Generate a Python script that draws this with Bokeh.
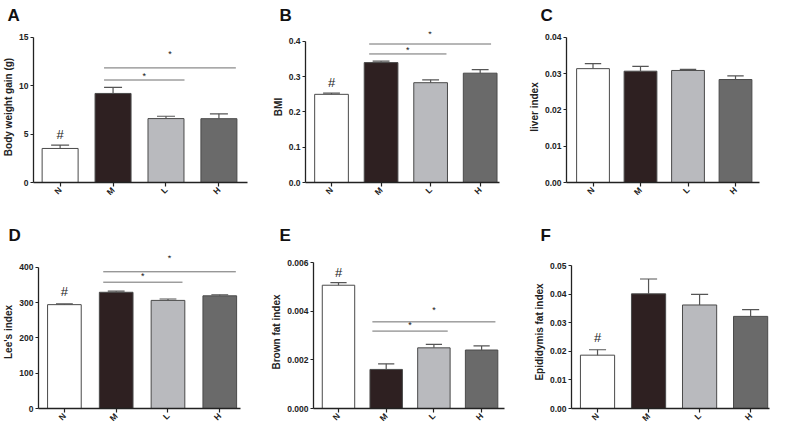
import math
from bokeh.plotting import figure
from bokeh.layouts import column, row
from bokeh.models import FixedTicker, NumeralTickFormatter, Range1d
from bokeh.core.properties import value
from bokeh.embed import file_html
from bokeh.resources import INLINE

# ---------------- data ----------------
categories = ["N", "M", "L", "H"]
bar_colors = ["#ffffff", "#2e2021", "#b9babe", "#6a6a6a"]

body_weight_gain = [3.52, 9.21, 6.61, 6.60]
body_weight_gain_err = [0.35, 0.62, 0.24, 0.50]

bmi = [0.250, 0.340, 0.283, 0.310]
bmi_err = [0.0035, 0.004, 0.008, 0.010]

liver_index = [0.0314, 0.0307, 0.0309, 0.0284]
liver_index_err = [0.0014, 0.0013, 0.0003, 0.0010]

lees_index = [294, 329, 306, 319]
lees_index_err = [2, 3, 4, 3]

brown_fat_index = [0.00508, 0.00161, 0.00250, 0.00241]
brown_fat_index_err = [0.00011, 0.00023, 0.00014, 0.00017]

epididymis_fat_index = [0.0187, 0.0402, 0.0363, 0.0323]
epididymis_fat_index_err = [0.0019, 0.0052, 0.0037, 0.0024]

# significance brackets (x in category units: start, end; y of line; y of star)
a_sig_x0 = [0.83, 0.83]; a_sig_x1 = [2.35, 3.32]; a_sig_y = [10.6, 11.85]; a_star_y = [11.0, 13.25]
b_sig_x0 = [0.76, 0.76]; b_sig_x1 = [2.32, 3.22]; b_sig_y = [0.3645, 0.3927]; b_star_y = [0.376, 0.420]
d_sig_x0 = [0.75, 0.75]; d_sig_x1 = [2.28, 3.31]; d_sig_y = [357.6, 387.0]; d_star_y = [376.5, 426.0]
e_sig_x0 = [0.71, 0.71]; e_sig_x1 = [2.29, 3.29]; e_sig_y = [0.00319, 0.00357]; e_star_y = [0.00343, 0.00405]

# '#' marks above the N group
a_hash_y = 5.0
b_hash_y = 0.284
d_hash_y = 330
e_hash_y = 0.0056
f_hash_y = 0.025

FONT = "Liberation Sans"


def panel(vals, errs, yticks, fmt, ylabel, letter, g, sig=None, hash_y=None):
    p = figure(width=g["w"], height=g["h"], output_backend="svg", toolbar_location=None,
               x_range=Range1d(g["x0"], g["x1"]), y_range=Range1d(0, g["yend"]),
               min_border_left=g["l"], min_border_right=g["r"],
               min_border_top=g["t"], min_border_bottom=g["b"])
    p.outline_line_color = None
    p.xgrid.visible = False
    p.ygrid.visible = False
    p.background_fill_color = "white"

    xs = list(range(len(categories)))
    bw = g["bw"]
    p.vbar(x=xs, top=vals, width=bw, bottom=0, fill_color=bar_colors,
           line_color="#4a4a4a", line_width=1)
    tops = [v + e for v, e in zip(vals, errs)]
    p.segment(x0=xs, y0=vals, x1=xs, y1=tops, line_color="#555555", line_width=1.2)
    cap = bw * 0.25
    p.segment(x0=[x - cap for x in xs], y0=tops, x1=[x + cap for x in xs], y1=tops,
              line_color="#555555", line_width=1.2)

    if sig is not None:
        x0s, x1s, ys, sy = sig
        p.segment(x0=x0s, y0=ys, x1=x1s, y1=ys, line_color="#6e6e6e", line_width=1)
        p.text(x=[(a + b) / 2 for a, b in zip(x0s, x1s)], y=sy, text=["*"] * len(sy),
               text_font=value(FONT), text_font_size="9px", text_align="center",
               text_baseline="middle", text_color="#111111")
    if hash_y is not None:
        p.text(x=[0], y=[hash_y], text=["#"], text_font=value(FONT), text_font_size="13px",
               text_align="center", text_baseline="middle", text_color="#222222")

    # axes
    p.yaxis.ticker = FixedTicker(ticks=yticks)
    p.yaxis.formatter = NumeralTickFormatter(format=fmt)
    p.yaxis.bounds = (0, yticks[-1])
    p.xaxis.ticker = FixedTicker(ticks=xs)
    p.xaxis.major_label_overrides = {i: c for i, c in enumerate(categories)}
    p.xaxis.major_label_orientation = math.pi / 4
    for ax in (p.xaxis, p.yaxis):
        ax.axis_line_color = "#222222"
        ax.axis_line_width = 1.3
        ax.major_tick_line_color = "#222222"
        ax.major_tick_line_width = 1.2
        ax.major_tick_in = 0
        ax.major_tick_out = 3
        ax.minor_tick_line_color = None
        ax.major_label_text_font = FONT
        ax.major_label_text_font_style = "bold"
        ax.major_label_text_font_size = "8.5px"
        ax.major_label_text_color = "#222222"
        ax.major_label_standoff = 2
    p.xaxis.major_tick_out = 4
    p.yaxis.axis_label = ylabel
    p.yaxis.axis_label_text_font = FONT
    p.yaxis.axis_label_text_font_style = "bold"
    p.yaxis.axis_label_text_font_size = "10px"
    p.yaxis.axis_label_text_color = "#222222"
    p.yaxis.axis_label_standoff = 2

    p.title.text = letter
    p.title.text_font = FONT
    p.title.text_font_style = "bold"
    p.title.text_font_size = "17px"
    p.title.text_color = "#111111"
    p.title.align = "left"
    p.title.vertical_align = "top"
    p.title.offset = g["lx"]
    p.title.standoff = g["ts"]
    return p


FH1 = 152
FH2 = 153
gA = dict(w=254, h=215, l=26, r=7, t=30, b=33, x0=-0.503, x1=3.54, yend=15 * FH1 / 146, bw=0.68,
          lx=-26, ts=10)
gB = dict(w=262, h=215, l=51, r=17, t=30, b=33, x0=-0.525, x1=3.39, yend=0.4 * FH1 / 142, bw=0.68,
          lx=-26, ts=10)
gC = dict(w=255, h=215, l=50, r=12, t=30, b=33, x0=-0.558, x1=3.505, yend=0.04 * FH1 / 146, bw=0.69,
          lx=-26, ts=10)
gD = dict(w=254, h=218, l=31, r=14, t=40, b=25, x0=-0.50, x1=3.40, yend=400 * FH2 / 141.3, bw=0.65,
          lx=-30, ts=18)
gE = dict(w=262, h=218, l=59, r=12, t=40, b=25, x0=-0.524, x1=3.48, yend=0.006 * FH2 / 145.6, bw=0.68,
          lx=-34, ts=18)
gF = dict(w=255, h=218, l=55, r=2, t=40, b=25, x0=-0.51, x1=3.37, yend=0.05 * FH2 / 142.6, bw=0.67,
          lx=-31, ts=18)

pA = panel(body_weight_gain, body_weight_gain_err, [0, 5, 10, 15], "0", "Body weight gain (g)", "A", gA,
           sig=(a_sig_x0, a_sig_x1, a_sig_y, a_star_y), hash_y=a_hash_y)
pB = panel(bmi, bmi_err, [0, 0.1, 0.2, 0.3, 0.4], "0.0", "BMI", "B", gB,
           sig=(b_sig_x0, b_sig_x1, b_sig_y, b_star_y), hash_y=b_hash_y)
pC = panel(liver_index, liver_index_err, [0, 0.01, 0.02, 0.03, 0.04], "0.00", "liver index", "C", gC)
pD = panel(lees_index, lees_index_err, [0, 100, 200, 300, 400], "0", "Lee's index", "D", gD,
           sig=(d_sig_x0, d_sig_x1, d_sig_y, d_star_y), hash_y=d_hash_y)
pE = panel(brown_fat_index, brown_fat_index_err, [0, 0.002, 0.004, 0.006], "0.000", "Brown fat index", "E", gE,
           sig=(e_sig_x0, e_sig_x1, e_sig_y, e_star_y), hash_y=e_hash_y)
pF = panel(epididymis_fat_index, epididymis_fat_index_err, [0, 0.01, 0.02, 0.03, 0.04, 0.05], "0.00",
           "Epididymis fat index", "F", gF, hash_y=f_hash_y)

layout = column(row(pA, pB, pC, spacing=0), row(pD, pE, pF, spacing=0), spacing=0)
open("out.html", "w").write(file_html(layout, INLINE))
